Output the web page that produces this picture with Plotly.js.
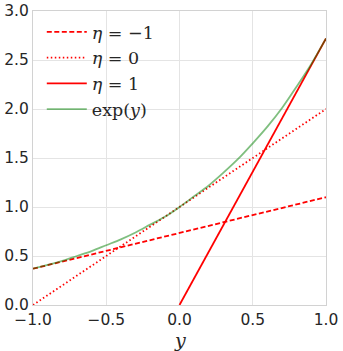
<!DOCTYPE html>
<html>
<head>
<meta charset="utf-8">
<script src="https://cdn.plot.ly/plotly-3.0.1.min.js"></script>
<style>
  html, body { margin: 0; padding: 0; background: #fff; }
  #chart { width: 343px; height: 351px; }
</style>
</head>
<body>
<div id="chart"></div>
<script>
// --- DATA ---
const lineNames = ["<i>η</i> = −1", "<i>η</i> = 0", "<i>η</i> = 1", "exp(<i>y</i>)"];
const xTitle = "<i>y</i>";

// tangent lines, two end points each
const etaMinus1X = [-1, 1];
const etaMinus1Y = [0.37, 1.10];
const eta0X = [-1, 1];
const eta0Y = [0.0, 2.0];
const eta1X = [0, 1];
const eta1Y = [0.0, 2.72];

// exp(y) curve
const expX = [-1.0, -0.9, -0.8, -0.7, -0.6, -0.5, -0.4, -0.3, -0.2, -0.1, 0.0,
              0.1, 0.2, 0.3, 0.4, 0.5, 0.6, 0.7, 0.8, 0.9, 1.0];
const expY = [0.37, 0.41, 0.45, 0.50, 0.55, 0.61, 0.67, 0.74, 0.82, 0.90, 1.00,
              1.11, 1.22, 1.35, 1.49, 1.65, 1.82, 2.01, 2.23, 2.46, 2.72];

const xTicks = [-1.0, -0.5, 0.0, 0.5, 1.0];
const yTicks = [0.0, 0.5, 1.0, 1.5, 2.0, 2.5, 3.0];

// --- TRACES ---
const RED = "rgb(255,0,0)";
const LW = 1.8;

const traces = [
    { x: etaMinus1X, y: etaMinus1Y, name: lineNames[0], mode: "lines",
      line: { color: RED, width: LW, dash: "5px,2.5px" } },
    { x: eta0X, y: eta0Y, name: lineNames[1], mode: "lines",
      line: { color: RED, width: LW, dash: "1.5px,2.5px" } },
    { x: eta1X, y: eta1Y, name: lineNames[2], mode: "lines",
      line: { color: RED, width: LW } },
    { x: expX, y: expY, name: lineNames[3], mode: "lines",
      line: { color: "rgba(0,128,0,0.5)", width: LW, shape: "spline" } }
];

const axisCommon = {
    showgrid: true,
    gridcolor: "#e4e4e4",
    gridwidth: 1,
    zeroline: false,
    showline: true,
    mirror: true,
    linecolor: "#d2d2d2",
    linewidth: 1,
    ticks: "",
    tickformat: ".1f",
    tickfont: { family: "DejaVu Sans", size: 15.5, color: "#262626" }
};

const layout = {
    width: 343,
    height: 351,
    margin: { l: 33, r: 17, t: 11, b: 46 },
    paper_bgcolor: "#fff",
    plot_bgcolor: "#fff",
    showlegend: true,
    legend: {
        x: 0.03, y: 0.99, xanchor: "left", yanchor: "top",
        bgcolor: "rgba(0,0,0,0)",
        borderwidth: 0,
        itemwidth: 40,
        font: { family: "DejaVu Serif", size: 17.5, color: "#262626" },
        tracegroupgap: 0
    },
    xaxis: Object.assign({}, axisCommon, {
        range: [-1, 1],
        tickvals: xTicks
    }),
    yaxis: Object.assign({}, axisCommon, {
        range: [0, 3],
        tickvals: yTicks
    }),
    // axis title placed as an annotation so it sits clear of the tick labels
    annotations: [{
        text: xTitle, xref: "paper", yref: "paper", x: 0.5, y: -0.075,
        xanchor: "center", yanchor: "top", showarrow: false,
        font: { family: "DejaVu Serif", size: 19, color: "#262626" }
    }]
};

Plotly.newPlot("chart", traces, layout, { displayModeBar: false, staticPlot: true });
</script>
</body>
</html>
